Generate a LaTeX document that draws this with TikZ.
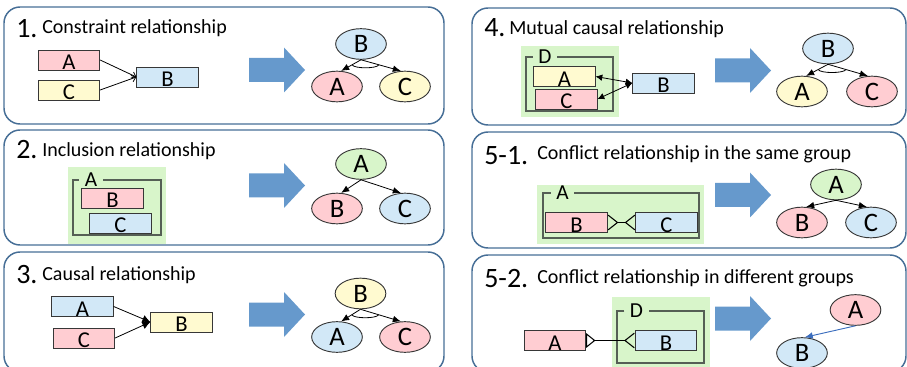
\documentclass[tikz,border=0pt]{standalone}
\usepackage{fontspec}
\setmainfont{Carlito}
\usetikzlibrary{shapes.geometric, arrows.meta, positioning, calc}

\definecolor{panelblue}{RGB}{70,110,150}
\definecolor{arrowblue}{RGB}{102,153,204}
\definecolor{linkblue}{RGB}{60,110,190}
\definecolor{linegray}{RGB}{55,55,55}
\definecolor{framegray}{RGB}{85,95,85}
\definecolor{pinkf}{RGB}{255,205,210}
\definecolor{yellowf}{RGB}{255,250,208}
\definecolor{bluef}{RGB}{210,232,247}
\definecolor{greenf}{RGB}{216,245,202}

% AND 弧線
\newcommand{\andarc}[3]{%
  \draw[line width=0.6pt] ($(#1.south)!0.45!(#2.75)$) .. controls +(2,4) and +(-2,4) .. ($(#1.south)!0.45!(#3.105)$);}

\begin{document}
\begin{tikzpicture}[x=0.75pt, y=-0.75pt,
  panel/.style={draw=panelblue, line width=1.1pt, rounded corners=12pt},
  numlbl/.style={anchor=base west, inner sep=0pt, font=\fontsize{21}{24}\selectfont},
  ttllbl/.style={anchor=base west, inner sep=0pt, font=\fontsize{15}{18}\selectfont},
  itembox/.style={rectangle, draw=linegray, line width=0.7pt, minimum width=46pt,
                  minimum height=15pt, inner sep=0pt, text height=14.6pt, text depth=0pt,
                  font=\fontsize{17}{18}\selectfont},
  ellnode/.style={ellipse, draw=linegray, line width=0.7pt, minimum width=38pt,
                  minimum height=23pt, inner sep=0pt, font=\fontsize{20}{20}\selectfont},
  grpbg/.style={fill=greenf},
  grpframe/.style={draw=framegray, line width=0.9pt},
  grplbl/.style={inner xsep=4pt, inner ysep=0pt, font=\fontsize{16}{16}\selectfont},
  arr/.style={draw, line width=0.6pt, -{Latex[length=6pt, width=5pt]}},
  thinarr/.style={draw, line width=0.6pt, -{Straight Barb[length=3pt, width=5pt]}},
  fillarr/.style={draw, line width=0.6pt, -{Latex[length=6pt, width=6pt]}},
  duoarr/.style={draw, line width=0.6pt, {Latex[length=5pt, width=5pt]}-{Latex[length=5pt, width=5pt]}},
  conflict/.style={draw, line width=0.8pt,
                   {Straight Barb[reversed, length=7pt, width=11pt]}-{Straight Barb[reversed, length=7pt, width=11pt]}},
  conflictx/.style={draw, line width=0.8pt,
                   {Triangle[open, reversed, length=7pt, width=11pt]}-{Straight Barb[reversed, length=7pt, width=11pt]}},
  linkarr/.style={draw=linkblue, line width=0.7pt, -{Latex[length=6pt, width=5pt]}},
  bigarrow/.pic={\fill[arrowblue] (0,-12) -- (35,-12) -- (35,-22.5) -- (56,0)
                  -- (35,22.5) -- (35,12) -- (0,12) -- cycle;}
]
\clip (0,0) rectangle (907,367);

%% 面板外框
\draw[panel] (4,7) rectangle (444,124);
\draw[panel] (4,130) rectangle (444,245);
\draw[panel] (4,252) rectangle (444,372);
\draw[panel] (472,8) rectangle (906,125);
\draw[panel] (472,132) rectangle (906,248);
\draw[panel] (472,255) rectangle (906,372);

%% 標題
\node[numlbl] (n1)  at (16,38)  {1.};
\node[ttllbl] (t1)  at (42,34)  {Constraint relationship};
\node[numlbl] (n2)  at (16,159) {2.};
\node[ttllbl] (t2)  at (42,157) {Inclusion relationship};
\node[numlbl] (n3)  at (16,283) {3.};
\node[ttllbl] (t3)  at (42,280) {Causal relationship};
\node[numlbl] (n4)  at (484,37)  {4.};
\node[ttllbl] (t4)  at (509,35)  {Mutual causal relationship};
\node[numlbl] (n51) at (484,165) {5-1.};
\node[ttllbl] (t51) at (537,160) {Conflict relationship in the same group};
\node[numlbl] (n52) at (484,287) {5-2.};
\node[ttllbl] (t52) at (537,283) {Conflict relationship in different groups};

%% 1. 約束關係
\node[itembox, fill=pinkf]   (a1) at (69,60)    {A};
\node[itembox, fill=yellowf] (c1) at (69,90)    {C};
\node[itembox, fill=bluef]   (b1) at (167.5,77) {B};
\draw[thinarr] (a1.east) -- (b1.west);
\draw[thinarr] (c1.east) -- (b1.west);
\pic at (249,70) {bigarrow};
\node[ellnode, fill=bluef]   (eb1) at (361,44)   {B};
\node[ellnode, fill=pinkf]   (ea1) at (337,86.5) {A};
\node[ellnode, fill=yellowf] (ec1) at (405,86.5) {C};
\draw[arr] (eb1.south) -- (ea1.75);
\draw[arr] (eb1.south) -- (ec1.105);
\andarc{eb1}{ea1}{ec1}

%% 2. 包含關係
\fill[grpbg] (68,167) rectangle (166,244);
\node[grplbl] (g2) at (91,180) {A};
\draw[grpframe] (g2.west) -| (73,235) -| (161,180) -- (g2.east);
\node[itembox, fill=pinkf] (b2) at (112.5,198) {B};
\node[itembox, fill=bluef] (c2) at (120.5,223) {C};
\pic at (249,185.5) {bigarrow};
\node[ellnode, fill=greenf] (ea2) at (361,164)   {A};
\node[ellnode, fill=pinkf]  (eb2) at (337,208.5) {B};
\node[ellnode, fill=bluef]  (ec2) at (405,208.5) {C};
\draw[arr] (ea2.south) -- (eb2.75);
\draw[arr] (ea2.south) -- (ec2.105);

%% 3. 因果關係
\node[itembox, fill=bluef]   (a3) at (82.5,306.5) {A};
\node[itembox, fill=pinkf]   (c3) at (84,338)     {C};
\node[itembox, fill=yellowf] (b3) at (181.5,322)  {B};
\draw[fillarr] (a3.east) -- (b3.west);
\draw[fillarr] (c3.east) -- (b3.west);
\pic at (249,314.5) {bigarrow};
\node[ellnode, fill=yellowf] (eb3) at (360.5,293.5) {B};
\node[ellnode, fill=bluef]   (ea3) at (337,337)     {A};
\node[ellnode, fill=pinkf]   (ec3) at (405,337)     {C};
\draw[arr] (eb3.south) -- (ea3.75);
\draw[arr] (eb3.south) -- (ec3.105);
\andarc{eb3}{ea3}{ec3}

%% 4. 相互因果關係
\fill[grpbg] (521,46) rectangle (619,117);
\node[grplbl] (g4) at (545,57) {D};
\draw[grpframe] (g4.west) -| (526,111) -| (613,57) -- (g4.east);
\node[itembox, fill=yellowf] (a4) at (564.5,76.5) {A};
\node[itembox, fill=pinkf]   (c4) at (566.5,99)   {C};
\node[itembox, fill=bluef]   (b4) at (663.5,83)   {B};
\draw[duoarr] (a4.east) -- (b4.west);
\draw[duoarr] (c4.east) -- (b4.west);
\pic at (715,70.5) {bigarrow};
\node[ellnode, fill=bluef]   (eb4) at (828,48.5) {B};
\node[ellnode, fill=yellowf] (ea4) at (802,91.5) {A};
\node[ellnode, fill=pinkf]   (ec4) at (872,91.5) {C};
\draw[arr] (eb4.south) -- (ea4.75);
\draw[arr] (eb4.south) -- (ec4.105);
\andarc{eb4}{ea4}{ec4}

%% 5-1. 同組衝突
\fill[grpbg] (537,185) rectangle (704,244);
\node[grplbl] (g51) at (562.5,193) {A};
\draw[grpframe] (g51.west) -| (543,238) -| (699,193) -- (g51.east);
\node[itembox, fill=pinkf] (b51) at (576.5,222.5) {B};
\node[itembox, fill=bluef] (c51) at (666.5,222.5) {C};
\draw[conflict] (b51.east) -- (c51.west);
\pic at (715,195) {bigarrow};
\node[ellnode, fill=greenf] (ea51) at (836,184.5) {A};
\node[ellnode, fill=pinkf]  (eb51) at (802,222.5) {B};
\node[ellnode, fill=bluef]  (ec51) at (871,222.5) {C};
\draw[arr] (ea51.south) -- (eb51.75);
\draw[arr] (ea51.south) -- (ec51.105);

%% 5-2. 異組衝突
\fill[grpbg] (612,297) rectangle (710,372);
\node[grplbl] (g52) at (636.5,311) {D};
\draw[grpframe] (g52.west) -| (617,363) -| (704,311) -- (g52.east);
\node[itembox, fill=pinkf] (a52) at (555,340.5) {A};
\node[itembox, fill=bluef] (b52) at (666,340.5) {B};
\draw[conflictx] (a52.east) -- (b52.west);
\pic at (715,318.5) {bigarrow};
\node[ellnode, fill=pinkf] (ea52) at (855.5,310) {A};
\node[ellnode, fill=bluef] (eb52) at (802,353)   {B};
\draw[linkarr] (ea52.south) -- (eb52.80);

\end{tikzpicture}
\end{document}
